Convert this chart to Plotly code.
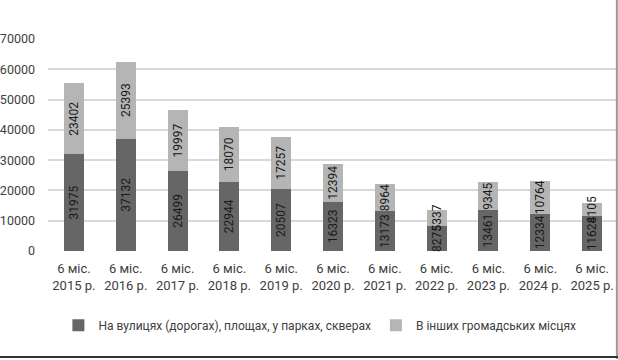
import plotly.graph_objects as go

categories = ["6 міс.<br>2015 р.", "6 міс.<br>2016 р.", "6 міс.<br>2017 р.", "6 міс.<br>2018 р.",
              "6 міс.<br>2019 р.", "6 міс.<br>2020 р.", "6 міс.<br>2021 р.", "6 міс.<br>2022 р.",
              "6 міс.<br>2023 р.", "6 міс.<br>2024 р.", "6 міс.<br>2025 р."]
streets = [31975, 37132, 26499, 22944, 20507, 16323, 13173, 8275, 13461, 12334, 11628]
other_places = [23402, 25393, 19997, 18070, 17257, 12394, 8964, 5337, 9345, 10764, 4105]
series_names = ["На вулицях (дорогах), площах, у парках, скверах", "В інших громадських місцях"]
y_ticks = [0, 10000, 20000, 30000, 40000, 50000, 60000, 70000]

FONT = "Roboto, 'Noto Sans', sans-serif"

fig = go.Figure()
for vals, name, color in [(streets, series_names[0], "#666666"), (other_places, series_names[1], "#b5b5b5")]:
    fig.add_trace(go.Bar(
        x=categories, y=vals, name=name, marker=dict(color=color, line=dict(width=0)),
        text=[str(v) for v in vals], textposition="inside", insidetextanchor="middle",
        textangle=-90, textfont=dict(size=12, color="#1a1a1a", family=FONT),
        cliponaxis=False,
    ))

fig.update_layout(
    barmode="stack", bargap=0.615,
    width=618, height=360,
    margin=dict(l=48, r=0, t=39, b=109),
    paper_bgcolor="white", plot_bgcolor="white",
    font=dict(family=FONT, size=12, color="#404040"),
    uniformtext=dict(minsize=12, mode="show"),
    showlegend=True,
    legend=dict(orientation="h", x=0.477, xanchor="center", y=-0.35, yanchor="middle",
                font=dict(size=12, color="#404040"), traceorder="normal"),
    xaxis=dict(showgrid=False, showline=False, ticks="", automargin=False,
               tickfont=dict(size=13, color="#404040"), ticklabelstandoff=8),
    yaxis=dict(range=[0, 70000], tickvals=y_ticks, ticktext=[str(v) for v in y_ticks],
               showgrid=True, gridcolor="#d9d9d9", gridwidth=1.5, automargin=False,
               zeroline=False, showline=False, tickfont=dict(size=12.5, color="#404040"),
               ticklabelstandoff=12),
    shapes=[
        dict(type="line", xref="paper", yref="paper", x0=0.998, x1=0.998, y0=-0.51, y1=1.19,
             line=dict(color="#999999", width=2), layer="above"),
        dict(type="line", xref="paper", yref="paper", x0=-0.09, x1=1.0, y0=-0.50, y1=-0.50,
             line=dict(color="#333333", width=2), layer="above"),
    ],
)

fig.write_html("out.html", config={"displayModeBar": False},
               post_script="document.body.style.margin='0';document.body.style.overflow='hidden';")
